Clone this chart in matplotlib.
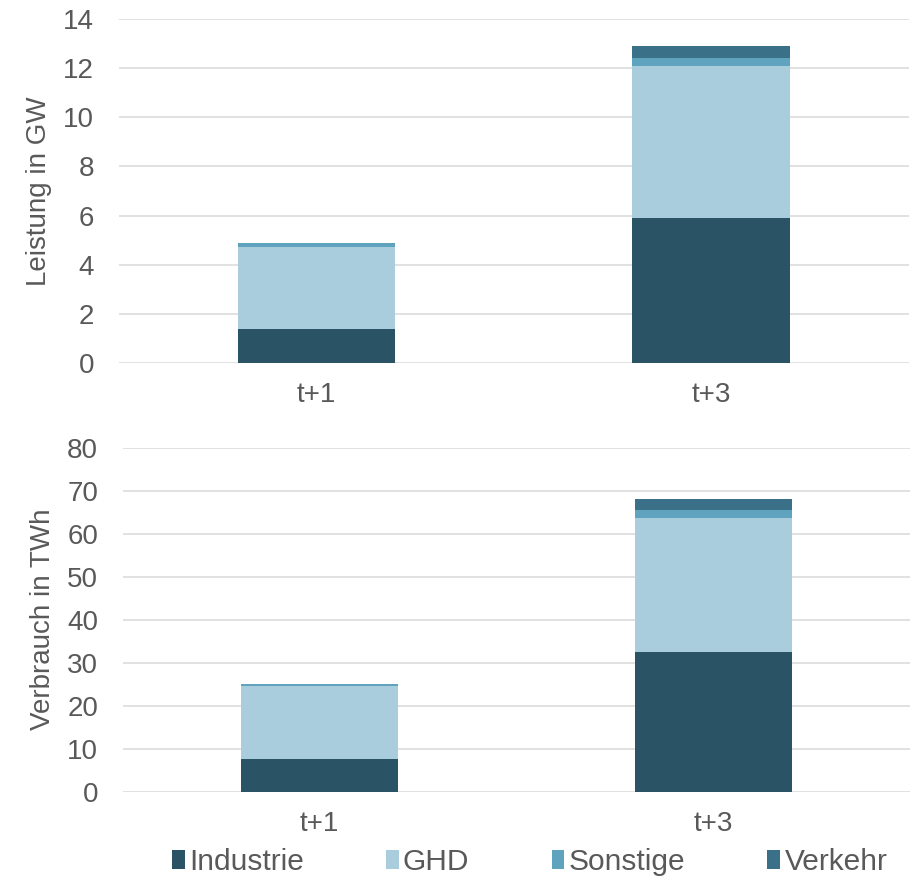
import matplotlib
matplotlib.use("Agg")
import matplotlib.pyplot as plt
import numpy as np
from matplotlib.patches import Patch

plt.rcParams["font.family"] = ["Liberation Sans", "DejaVu Sans"]

# Stacked values per sector for the two horizons
periods = ["t+1", "t+3"]
sectors = ["Industrie", "GHD", "Sonstige", "Verkehr"]

leistung_gw = {
    "Industrie": [1.38, 5.90],
    "GHD": [3.35, 6.19],
    "Sonstige": [0.15, 0.32],
    "Verkehr": [0.0, 0.49],
}
verbrauch_twh = {
    "Industrie": [7.6, 32.4],
    "GHD": [16.9, 31.2],
    "Sonstige": [0.6, 1.8],
    "Verkehr": [0.0, 2.6],
}

colors = {
    "Industrie": "#2A5365",
    "GHD": "#A9CDDC",
    "Sonstige": "#5FA3BF",
    "Verkehr": "#3A7088",
}
text_color = "#595959"
grid_color = "#D9D9D9"
FS = 20


def draw_stack(ax, data, ylim, step, ylabel):
    x = np.arange(len(periods))
    bottom = np.zeros(len(periods))
    for s in sectors:
        vals = np.array(data[s])
        ax.bar(x, vals, 0.40, bottom=bottom, color=colors[s], zorder=3)
        bottom += vals
    ax.set_xlim(-0.5, len(periods) - 0.5)
    ax.set_ylim(0, ylim)
    ax.set_yticks(np.arange(0, ylim + step / 2, step))
    ax.set_xticks(x)
    ax.set_xticklabels(periods)
    ax.yaxis.grid(True, color=grid_color, linewidth=1.1, zorder=0)
    ax.set_axisbelow(True)
    for sp in ax.spines.values():
        sp.set_visible(False)
    ax.tick_params(axis="both", length=0, labelsize=FS, colors=text_color)
    ax.tick_params(axis="y", pad=18)
    ax.tick_params(axis="x", pad=14)
    ax.set_ylabel(ylabel, fontsize=FS, color=text_color, labelpad=8)


fig = plt.figure(figsize=(9.1, 8.82), dpi=100)
ax1 = fig.add_axes([0.1308, 0.5884, 0.868, 0.3901])
ax2 = fig.add_axes([0.1352, 0.1026, 0.8648, 0.3900])

draw_stack(ax1, leistung_gw, 14, 2, "Leistung in GW")
draw_stack(ax2, verbrauch_twh, 80, 10, "Verbrauch in TWh")

handles = [Patch(facecolor=colors[s], edgecolor="none") for s in sectors]
leg = fig.legend(handles, sectors, loc="center", bbox_to_anchor=(0.582, 0.023),
                 ncol=4, frameon=False, fontsize=21.5, handlelength=0.42,
                 handleheight=0.6, handletextpad=0.15, columnspacing=2.75,
                 borderaxespad=0)
for t in leg.get_texts():
    t.set_color(text_color)

fig.savefig("out.png", dpi=100)
